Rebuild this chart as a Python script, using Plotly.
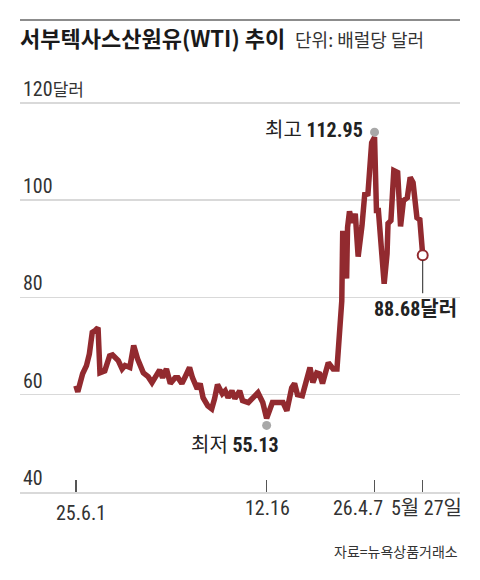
import plotly.graph_objects as go

# ---- data ----
dates = [
    "2025-06-01", "2025-06-03", "2025-06-08", "2025-06-12", "2025-06-15", "2025-06-18", "2025-06-21", "2025-06-24", "2025-06-26",
    "2025-07-01", "2025-07-06", "2025-07-09", "2025-07-15", "2025-07-19", "2025-07-22", "2025-07-27", "2025-07-31",
    "2025-08-04", "2025-08-10", "2025-08-15", "2025-08-19", "2025-08-24", "2025-08-27", "2025-08-30",
    "2025-09-03", "2025-09-07", "2025-09-12", "2025-09-15", "2025-09-19", "2025-09-22", "2025-09-27", "2025-09-30",
    "2025-10-05", "2025-10-08", "2025-10-11", "2025-10-16", "2025-10-20", "2025-10-23", "2025-10-26", "2025-10-31",
    "2025-11-03", "2025-11-06", "2025-11-10", "2025-11-13", "2025-11-18", "2025-11-21", "2025-11-27",
    "2025-12-02", "2025-12-07", "2025-12-12", "2025-12-16", "2025-12-22", "2025-12-28",
    "2026-01-02", "2026-01-06", "2026-01-11", "2026-01-14", "2026-01-17", "2026-01-22", "2026-01-25", "2026-01-30",
    "2026-02-02", "2026-02-06", "2026-02-09", "2026-02-12", "2026-02-18", "2026-02-23", "2026-02-27", "2026-02-28",
    "2026-03-02", "2026-03-04", "2026-03-05", "2026-03-07", "2026-03-09", "2026-03-10", "2026-03-12", "2026-03-15",
    "2026-03-18", "2026-03-21", "2026-03-25", "2026-03-28", "2026-03-31",
    "2026-04-02", "2026-04-04", "2026-04-07", "2026-04-09", "2026-04-11", "2026-04-15", "2026-04-17", "2026-04-20",
    "2026-04-21", "2026-04-24", "2026-04-27",
    "2026-05-01", "2026-05-04", "2026-05-07", "2026-05-11", "2026-05-14", "2026-05-17", "2026-05-21", "2026-05-24",
    "2026-05-27",
]
prices = [
    61.85, 60.6, 64.3, 66.0, 68.4, 72.8, 73.2, 73.8, 64.5,
    64.9, 68.0, 68.2, 67.0, 65.3, 66.0, 65.6, 70.1,
    67.4, 64.5, 63.7, 62.5, 63.9, 65.1, 63.5,
    65.3, 62.3, 63.5, 63.5, 62.3, 63.5, 65.6, 63.5,
    61.2, 62.3, 59.4, 57.7, 57.1, 59.2, 62.1, 60.2,
    60.8, 59.4, 60.8, 59.2, 60.8, 58.8, 58.4,
    59.4, 60.4, 58.4, 55.13, 58.4, 58.4,
    58.4, 56.7, 61.4, 62.3, 60.0, 59.8, 62.3, 65.6,
    62.5, 64.5, 64.3, 62.3, 66.6, 65.3, 65.3, 68.4,
    74.8, 79.3, 93.7, 90.7, 83.9, 94.4, 97.7, 95.4,
    97.2, 88.4, 94.8, 101.6, 100.9,
    107.7, 111.8, 112.95, 97.9, 97.9, 88.6, 82.8, 89.0,
    95.2, 95.8, 106.1,
    105.7, 94.6, 99.9, 100.5, 104.7, 103.6, 96.4, 96.0,
    88.68,
]
x_tick_dates = ["2025-06-01", "2025-12-16", "2026-04-07", "2026-05-27"]
x_tick_labels = ["25.6.1", "12.16", "26.4.7", "5월 27일"]
y_tick_values = [40, 60, 80, 100, 120]
y_tick_labels = ["40", "60", "80", "100", "120<span style='font-size:17px'>달러</span>"]

title_text = "서부텍사스산원유(WTI) 추이"
unit_text = "단위: 배럴당 달러"
source_text = "자료=뉴욕상품거래소"

# ---- styles ----
LINE = "#922a2f"
GRID = "#d9d9d9"
NUM_FONT = ("Liberation Sans Narrow, Arial Narrow, Noto Sans Condensed, Noto Sans SemiCondensed, "
            "Roboto Condensed, Roboto, Noto Sans CJK KR, sans-serif")
KR_FONT = "Noto Sans CJK KR, sans-serif"
# pixel nudges of the x tick texts relative to their ticks (as laid out in the original)
x_label_dx = [5, 1, -17, 4]
x_label_dy = [-21, -16, -16, -16]

i_max = prices.index(max(prices))
i_min = prices.index(min(prices))

fig = go.Figure()
fig.add_trace(go.Scatter(
    x=dates, y=prices, mode="lines",
    line=dict(color=LINE, width=5.5),
    hoverinfo="skip", showlegend=False,
))
fig.add_trace(go.Scatter(
    x=[dates[-1]], y=[prices[-1]], mode="markers",
    marker=dict(size=10, color="white", line=dict(color=LINE, width=2)),
    hoverinfo="skip", showlegend=False,
))

# gray dots for max / min
fig.add_shape(type="circle", xref="x", yref="y", xsizemode="pixel", ysizemode="pixel",
              xanchor=dates[i_max], yanchor=prices[i_max],
              x0=-4.5, x1=4.5, y0=0.5, y1=9.5, fillcolor="#a8a8a8", line_width=0)
fig.add_shape(type="circle", xref="x", yref="y", xsizemode="pixel", ysizemode="pixel",
              xanchor=dates[i_min], yanchor=prices[i_min],
              x0=-4.5, x1=4.5, y0=-11.5, y1=-2.5, fillcolor="#a8a8a8", line_width=0)
# connector from last point to its label
fig.add_shape(type="line", xref="x", yref="y", xsizemode="pixel", ysizemode="pixel",
              xanchor=dates[-1], yanchor=prices[-1],
              x0=0, x1=0, y0=-5, y1=-38, line=dict(color="#222", width=1))
# top rule
fig.add_shape(type="line", xref="paper", yref="paper", x0=0, x1=1, y0=1.1484, y1=1.1484,
              line=dict(color="#8c8c8c", width=2))

# x tick labels, placed at their tick dates on the x axis
for d, lab, dx, dy in zip(x_tick_dates, x_tick_labels, x_label_dx, x_label_dy):
    fig.add_annotation(x=d, y=0, xref="x", yref="paper", text=lab, showarrow=False,
                       xanchor="center", yanchor="middle", xshift=dx, yshift=dy,
                       font=dict(family=NUM_FONT, size=20, color="#333"))

fig.add_annotation(x=dates[i_max], y=prices[i_max], xref="x", yref="y",
                   text=f"최고 <b>{prices[i_max]:.2f}</b>", showarrow=False,
                   xanchor="right", yanchor="middle", xshift=-10, yshift=7,
                   font=dict(family=NUM_FONT, size=20, color="#222"))
fig.add_annotation(x=dates[i_min], y=prices[i_min], xref="x", yref="y",
                   text=f"최저 <b>{prices[i_min]:.2f}</b>", showarrow=False,
                   xanchor="center", yanchor="middle", xshift=-32, yshift=-27,
                   font=dict(family=NUM_FONT, size=20, color="#222"))
fig.add_annotation(x=dates[-1], y=prices[-1], xref="x", yref="y",
                   text=f"<b>{prices[-1]:.2f}달러</b>", showarrow=False,
                   xanchor="center", yanchor="middle", xshift=-7, yshift=-54,
                   font=dict(family=NUM_FONT, size=20, color="#222"))
fig.add_annotation(x=1, y=0, xref="paper", yref="paper", text=source_text,
                   showarrow=False, xanchor="right", yanchor="middle", yshift=-59,
                   font=dict(family=KR_FONT, size=14, color="#333"))

fig.update_layout(
    width=480, height=580,
    margin=dict(l=20, r=20, t=81, b=88),
    paper_bgcolor="white", plot_bgcolor="white",
    showlegend=False,
    title=dict(
        text=(f"<b>{title_text}</b>\u00a0 "
              f"<span style='font-size:18px;font-weight:normal;color:#333'>{unit_text}</span>"),
        x=20 / 480, xanchor="left", xref="container",
        y=1 - 39 / 580, yanchor="middle", yref="container",
        font=dict(family=KR_FONT, size=22, color="#1a1a1a"),
    ),
    xaxis=dict(
        type="date", range=["2025-04-04", "2026-07-04 17:00"],
        tickvals=x_tick_dates, showticklabels=False,
        showgrid=False, zeroline=False,
        ticks="inside", ticklen=12, tickwidth=1.5, tickcolor="#555",
        showline=True, linecolor=GRID, linewidth=2,
        fixedrange=True,
    ),
    yaxis=dict(
        range=[40, 124.5],
        tickvals=y_tick_values, ticktext=y_tick_labels,
        ticklabelposition="inside top", ticklabeloverflow="allow",
        showgrid=True, gridcolor=GRID, gridwidth=1.5,
        zeroline=False, ticks="",
        tickfont=dict(family=NUM_FONT, size=20, color="#333"),
        fixedrange=True,
    ),
    hovermode=False,
)

fig.write_html("out.html", config={"displayModeBar": False, "staticPlot": True},
               post_script="document.body.style.margin='0';document.body.style.padding='0';")
